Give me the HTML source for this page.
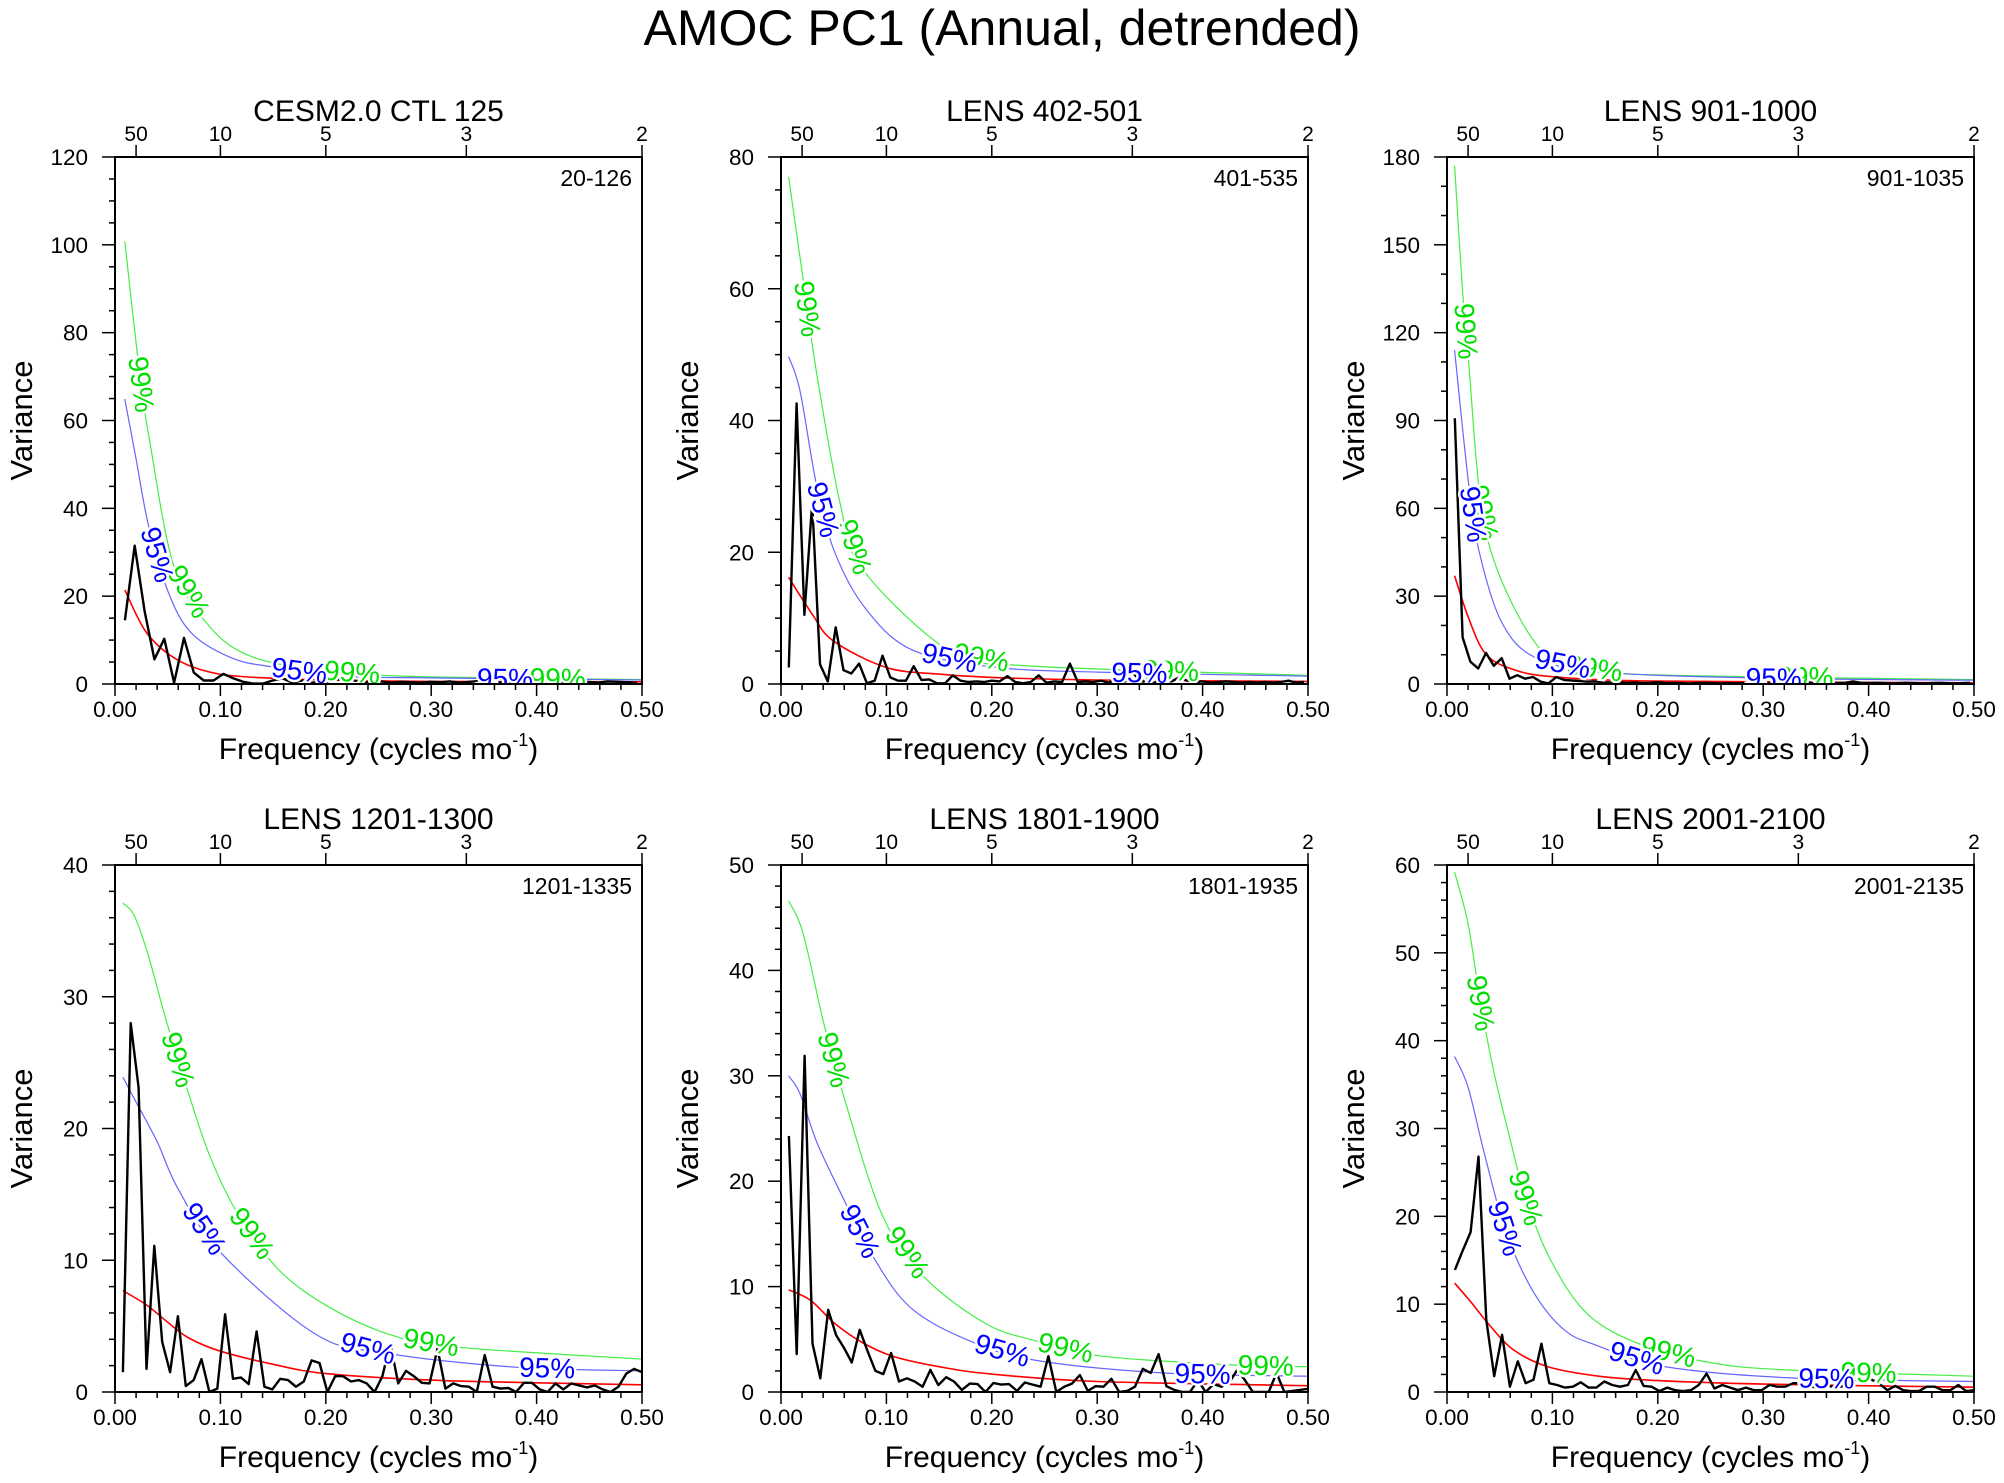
<!DOCTYPE html>
<html><head><meta charset="utf-8">
<style>
html,body{margin:0;padding:0;background:#fff;}
svg{display:block;font-family:"Liberation Sans",sans-serif;}
</style></head>
<body>
<svg id="fig" width="2004" height="1483" viewBox="0 0 2004 1483" xmlns="http://www.w3.org/2000/svg">
<text x="1002" y="45" font-size="50" text-anchor="middle">AMOC PC1 (Annual, detrended)</text>
</svg>
<script>
// ---------- data ----------
const panelTitles = ["CESM2.0 CTL 125","LENS 402-501","LENS 901-1000","LENS 1201-1300","LENS 1801-1900","LENS 2001-2100"];
const panelRanges = ["20-126","401-535","901-1035","1201-1335","1801-1935","2001-2135"];
const yMaxes = [120,80,180,40,50,60];
const yMajors = [20,20,30,10,10,10];
const yMinors = [5,5,10,2,2,2];
const freqSteps = [1/107,1/135,1/135,1/134,1/134,1/134];
const xTicks = [0,0.1,0.2,0.3,0.4,0.5];
const xTickLabels = ["0.00","0.10","0.20","0.30","0.40","0.50"];
const periodTicks = [50,10,5,3,2];

const p1Spec = [14.5,31.5,16.6,5.6,10.3,0.3,10.5,2.6,0.8,0.8,2.3,1.3,0.5,0.1,0.1,0.8,1.3,0.3,0.8,0.3,0.5,0.6,1.3,0.9,0.5,0.4,0.6,0.3,0.5,0.4,0.3,0.5,0.4,0.6,0.3,0.5,0.7,0.4,0.3,0.5,0.4,0.6,0.3,0.5,0.6,0.4,0.7,0.5,0.3,0.6,0.5,0.4,0.3];
const p2Spec = [2.5,42.6,10.5,27.5,3,0.4,8.6,2.1,1.6,3.1,0.1,0.5,4.3,1,0.5,0.5,2.7,0.6,0.7,0.1,0.1,1.3,0.5,0.3,0.4,0.3,0.5,0.4,1.2,0.3,0.1,0.3,1.3,0.2,0.4,0.3,3.1,0.3,0.4,0.3,0.5,0.2,0.8,0.3,1.8,0.5,0.2,0.3,0.5,0.4,1.0,0.5,0.3,0.4,0.2,0.3,0.4,0.3,0.2,0.3,0.2,0.3,0.2,0.3,0.5,0.2,0.3];
const p3Spec = [90.8,16,7.6,5.3,10.6,6.2,8.8,1.8,3,1.8,2.4,0.8,0.2,2.4,1.4,1.2,1.0,0.8,0.9,0.6,0.5,0.7,0.4,0.5,0.3,0.4,0.6,0.3,0.4,0.3,0.2,0.3,0.4,0.3,0.2,0.3,0.2,0.3,0.4,0.2,0.3,0.2,0.3,0.2,0.3,0.4,0.6,0.3,0.2,0.3,0.4,0.9,0.4,0.3,0.4,0.3,0.2,0.3,0.4,0.3,0.2,0.3,0.4,0.3,0.2,0.3,0.4];
const p4Spec = [1.5,28,23.1,1.75,11.1,3.8,1.5,5.75,0.45,0.9,2.5,0,0.26,5.9,1,1.1,0.6,4.6,0.4,0.2,1,0.9,0.4,0.8,2.4,2.2,0,1.2,1.2,0.8,0.9,0.65,0,1.2,3.7,0.65,1.6,1.2,0.7,0.65,3.3,0.26,0.65,0.45,0.4,0,2.8,0.4,0.26,0.3,0,0.7,0.7,0.2,0,0.65,0.2,0.65,0.5,0.35,0.5,0.2,0,0.4,1.4,1.75,1.5];
const p5Spec = [24.3,3.6,31.9,4.6,1.3,7.8,5.4,4.2,2.8,5.9,3.9,2,1.7,3.7,1,1.3,1,0.5,2.1,0.65,1.4,1,0.2,0.8,0.75,0,0.85,0.7,0.75,0.1,0.9,0.7,0.5,3.4,0,0.5,0.8,1.6,0.1,0.55,0.5,1.25,0,0.1,0.5,2.2,1.8,3.6,0.55,0.2,0,0,1.1,0,0.75,0.5,0.9,2.1,1.1,0,0,0,1.8,0,0.1,0.2,0.3];
const p6Spec = [13.9,16.1,18.2,26.8,8.2,1.8,6.5,0.6,3.5,1,1.4,5.5,1,0.8,0.5,0.6,1.1,0.5,0.5,1.2,0.8,0.6,0.8,2.5,0.7,0.6,0.1,0.5,0.2,0.1,0.2,0.8,2.1,0.4,0.8,0.5,0.2,0.5,0.2,0.2,0.8,0.6,0.6,1,1,0.7,0.5,0.8,0.6,0.6,0.8,1.4,1.8,1.4,0.9,0.2,0.7,0.2,0.1,0.1,0.6,0.6,0.2,0.2,0.8,0.1,0.2];

const p1RedF=[0.0093,0.0305,0.06,0.098,0.15,0.2,0.3,0.5], p1Red=[21.4,11.5,5.4,2.3,1.3,0.9,0.6,0.5];
const p1C95F=[0.0093,0.02,0.032,0.051,0.073,0.111,0.149,0.213,0.3,0.5], p1C95=[64.9,51.2,35.9,20.6,11.5,5.9,3.9,1.8,1.4,0.9];
const p1C99F=[0.0093,0.023,0.033,0.056,0.09,0.128,0.187,0.272,0.5], p1C99=[100.8,71.5,55.2,26.7,13,6.4,3.4,1.8,1];
const p2RedF=[0.0072,0.03,0.05,0.1,0.15,0.2,0.3,0.5], p2Red=[16.2,10.5,6.5,2.5,1.5,1,0.6,0.4];
const p2C95F=[0.0072,0.018,0.034,0.051,0.08,0.124,0.2,0.3,0.5], p2C95=[49.7,44.5,30,20,11.5,5.2,2.6,1.8,1.2];
const p2C99F=[0.0072,0.0245,0.034,0.056,0.077,0.16,0.23,0.5], p2C99=[77,57.5,47,27.5,17.5,5,2.8,1.3];
const p3RedF=[0.0072,0.02,0.036,0.06,0.1,0.2,0.5], p3Red=[37,23,10.6,5.3,2.5,1,0.4];
const p3C95F=[0.0072,0.02,0.03,0.052,0.085,0.15,0.3,0.5], p3C95=[114,70,46,21,8.8,4,2,1.3];
const p3C99F=[0.0072,0.015,0.021,0.031,0.046,0.079,0.11,0.18,0.5], p3C99=[177,133,108,65,40.6,16.5,7,3.3,1.5];
const p4RedF=[0.0075,0.03,0.05,0.07,0.1,0.15,0.2,0.3,0.4,0.5], p4Red=[7.7,6.6,5.3,4.1,3.1,2.1,1.4,0.9,0.7,0.55];
const p4C95F=[0.0075,0.02,0.04,0.06,0.1,0.19,0.257,0.377,0.5], p4C95=[23.9,22,19,15.4,10.6,4.4,2.95,1.9,1.6];
const p4C99F=[0.0075,0.018,0.031,0.049,0.07,0.09,0.116,0.155,0.204,0.263,0.325,0.5], p4C99=[37.1,36.2,33.3,28.1,22.6,17.9,13.6,9.3,6.4,4.3,3.4,2.5];
const p5RedF=[0.0072,0.028,0.051,0.077,0.106,0.15,0.2,0.3,0.5], p5Red=[9.7,8.7,6.5,4.7,3.4,2.4,1.7,1,0.6];
const p5C95F=[0.0072,0.018,0.034,0.057,0.087,0.123,0.178,0.242,0.364,0.5], p5C95=[30,28.3,23.7,18.8,12.9,8,4.9,3,1.8,1.5];
const p5C99F=[0.0072,0.021,0.041,0.06,0.096,0.136,0.194,0.24,0.305,0.423,0.5], p5C99=[46.6,43.5,34.8,27.9,16.8,10.9,6.5,4.9,3.4,2.6,2.4];
const p6RedF=[0.0072,0.023,0.039,0.062,0.095,0.144,0.2,0.3,0.5], p6Red=[12.4,10.2,7.8,4.9,2.9,1.8,1.3,0.9,0.55];
const p6C95F=[0.0072,0.02,0.036,0.056,0.082,0.111,0.142,0.206,0.327,0.5], p6C95=[38.2,34.7,26.9,18.2,11.4,7.1,5.3,2.9,1.6,1.2];
const p6C99F=[0.0072,0.02,0.031,0.044,0.059,0.074,0.098,0.134,0.186,0.252,0.324,0.5], p6C99=[59.2,53.3,44.9,36.7,29.2,22.4,15.1,8.8,5.3,3.3,2.5,1.8];

const specs=[p1Spec,p2Spec,p3Spec,p4Spec,p5Spec,p6Spec];
const reds=[[p1RedF,p1Red],[p2RedF,p2Red],[p3RedF,p3Red],[p4RedF,p4Red],[p5RedF,p5Red],[p6RedF,p6Red]];
const c95s=[[p1C95F,p1C95],[p2C95F,p2C95],[p3C95F,p3C95],[p4C95F,p4C95],[p5C95F,p5C95],[p6C95F,p6C95]];
const c99s=[[p1C99F,p1C99],[p2C99F,p2C99],[p3C99F,p3C99],[p4C99F,p4C99],[p5C99F,p5C99],[p6C99F,p6C99]];
const lab95=[[0.04,0.175,0.37],[0.04,0.16,0.34],[0.025,0.11,0.31],[0.085,0.24,0.41],[0.075,0.21,0.4],[0.055,0.18,0.36]];
const lab99=[[0.025,0.07,0.225,0.42],[0.025,0.07,0.19,0.37],[0.018,0.035,0.14,0.34],[0.06,0.13,0.3],[0.05,0.12,0.27,0.46],[0.032,0.075,0.21,0.4]];

// ---------- drawing ----------
const NS="http://www.w3.org/2000/svg";
const svg=document.getElementById('fig');
function mk(tag,attrs,parent){const e=document.createElementNS(NS,tag);for(const k in attrs)e.setAttribute(k,attrs[k]);(parent||svg).appendChild(e);return e;}
function interp(F,V,f){
  if(f<=F[0])return V[0];
  for(let i=1;i<F.length;i++){if(f<=F[i]){const t=(f-F[i-1])/(F[i]-F[i-1]);return V[i-1]+t*(V[i]-V[i-1]);}}
  return V[V.length-1];
}
function smoothPath(pts){
  let d="M"+pts[0][0].toFixed(1)+","+pts[0][1].toFixed(1);
  for(let i=0;i<pts.length-1;i++){
    const p0=pts[Math.max(0,i-1)],p1=pts[i],p2=pts[i+1],p3=pts[Math.min(pts.length-1,i+2)];
    const c1=[p1[0]+(p2[0]-p0[0])/6,p1[1]+(p2[1]-p0[1])/6];
    const c2=[p2[0]-(p3[0]-p1[0])/6,p2[1]-(p3[1]-p1[1])/6];
    d+=" C"+c1[0].toFixed(1)+","+c1[1].toFixed(1)+" "+c2[0].toFixed(1)+","+c2[1].toFixed(1)+" "+p2[0].toFixed(1)+","+p2[1].toFixed(1);
  }
  return d;
}

for(let p=0;p<6;p++){
  const col=p%3,row=Math.floor(p/3);
  const L=115+col*666,T=157+row*708,W=527,H=527,ymax=yMaxes[p];
  const xs=f=>L+f/0.5*W;
  const ys=v=>T+H-v/ymax*H;
  const g=mk('g',{});
  
  
  const cid='clip'+p;
  const cp=mk('clipPath',{id:cid},g);mk('rect',{x:L,y:T,width:W,height:H},cp);

  let t=mk('text',{x:L+W/2,y:T-36,'font-size':30,'text-anchor':'middle'},g);t.textContent=panelTitles[p];
  
  
  t=mk('text',{x:L+W-10,y:T+29,'font-size':23,'text-anchor':'end'},g);t.textContent=panelRanges[p];
  
  

  // y ticks
  for(let v=0;v<=ymax+1e-9;v+=yMinors[p]){
    const major=Math.abs(v/yMajors[p]-Math.round(v/yMajors[p]))<1e-6;
    mk('line',{x1:L-(major?13:6),x2:L,y1:ys(v),y2:ys(v),stroke:'#000','stroke-width':1.5},g);
    if(major){t=mk('text',{x:L-27,y:ys(v)+8,'font-size':22.5,'text-anchor':'end'},g);t.textContent=String(Math.round(v));
      
      }
  }
  // x ticks
  for(let i=0;i<=25;i++){const f=i*0.02;const major=i%5===0;
    mk('line',{x1:xs(f),x2:xs(f),y1:T+H,y2:T+H+(major?12:6),stroke:'#000','stroke-width':1.5},g);}
  xTicks.forEach((f,i)=>{t=mk('text',{x:xs(f),y:T+H+33,'font-size':22.5,'text-anchor':'middle'},g);t.textContent=xTickLabels[i];
    
    });
  // top period axis
  periodTicks.forEach(per=>{const f=1/per;
    mk('line',{x1:xs(f),x2:xs(f),y1:T-12,y2:T,stroke:'#000','stroke-width':1.5},g);
    t=mk('text',{x:xs(f),y:T-16,'font-size':21,'text-anchor':'middle'},g);t.textContent=String(per);
    
    });
  // axis titles
  t=mk('text',{x:L+W/2,y:T+H+75,'font-size':30,'text-anchor':'middle'},g);
  t.innerHTML='Frequency (cycles mo<tspan font-size="18" dy="-13">-1</tspan><tspan dy="13">)</tspan>';
  
  
  t=mk('text',{x:0,y:0,'font-size':31,'text-anchor':'middle',transform:`translate(${L-83},${T+H/2}) rotate(-90)`},g);t.textContent='Variance';
  
  

  const plot=mk('g',{'clip-path':`url(#${cid})`},g);
  const curves=[[c99s[p],'#44ee44',1.2,'conf-99-line'],[c95s[p],'#6666ff',1.2,'conf-95-line'],[reds[p],'#ff0000',1.6,'red-noise-line']];
  curves.forEach(c=>{
    const F=c[0][0],V=c[0][1];
    const path=mk('path',{d:smoothPath(F.map((f,i)=>[xs(f),ys(V[i])])),fill:'none',stroke:c[1],'stroke-width':c[2]},plot);
    
    
  });
  const sp=specs[p],st=freqSteps[p];
  const pl=mk('polyline',{points:sp.map((v,i)=>xs((i+1)*st).toFixed(1)+","+ys(v).toFixed(1)).join(' '),fill:'none',stroke:'#000','stroke-width':2.4,'stroke-linejoin':'round'},plot);
  
  
  const addLabels=(list,curve,txt,color,name)=>{
    list.forEach(f=>{
      const F=curve[0],V=curve[1];
      const x=xs(f),y=ys(interp(F,V,f));
      const dx=xs(f+0.004)-xs(f-0.004),dy=ys(interp(F,V,f+0.004))-ys(interp(F,V,f-0.004));
      const ang=Math.atan2(dy,dx)*180/Math.PI;
      const tt=mk('text',{x:0,y:0,'font-size':28,'text-anchor':'middle','dominant-baseline':'central',fill:color,stroke:'#fff','stroke-width':5,'paint-order':'stroke',transform:`translate(${x.toFixed(1)},${y.toFixed(1)}) rotate(${ang.toFixed(1)})`},plot);
      tt.textContent=txt;
      
      
    });
  };
  addLabels(lab99[p],c99s[p],'99%','#00dd00','label-99');
  addLabels(lab95[p],c95s[p],'95%','#0000ff','label-95');
  const fr=mk('rect',{x:L,y:T,width:W,height:H,fill:'none',stroke:'#000','stroke-width':2},g);
  
  
}
</script>
</body></html>
